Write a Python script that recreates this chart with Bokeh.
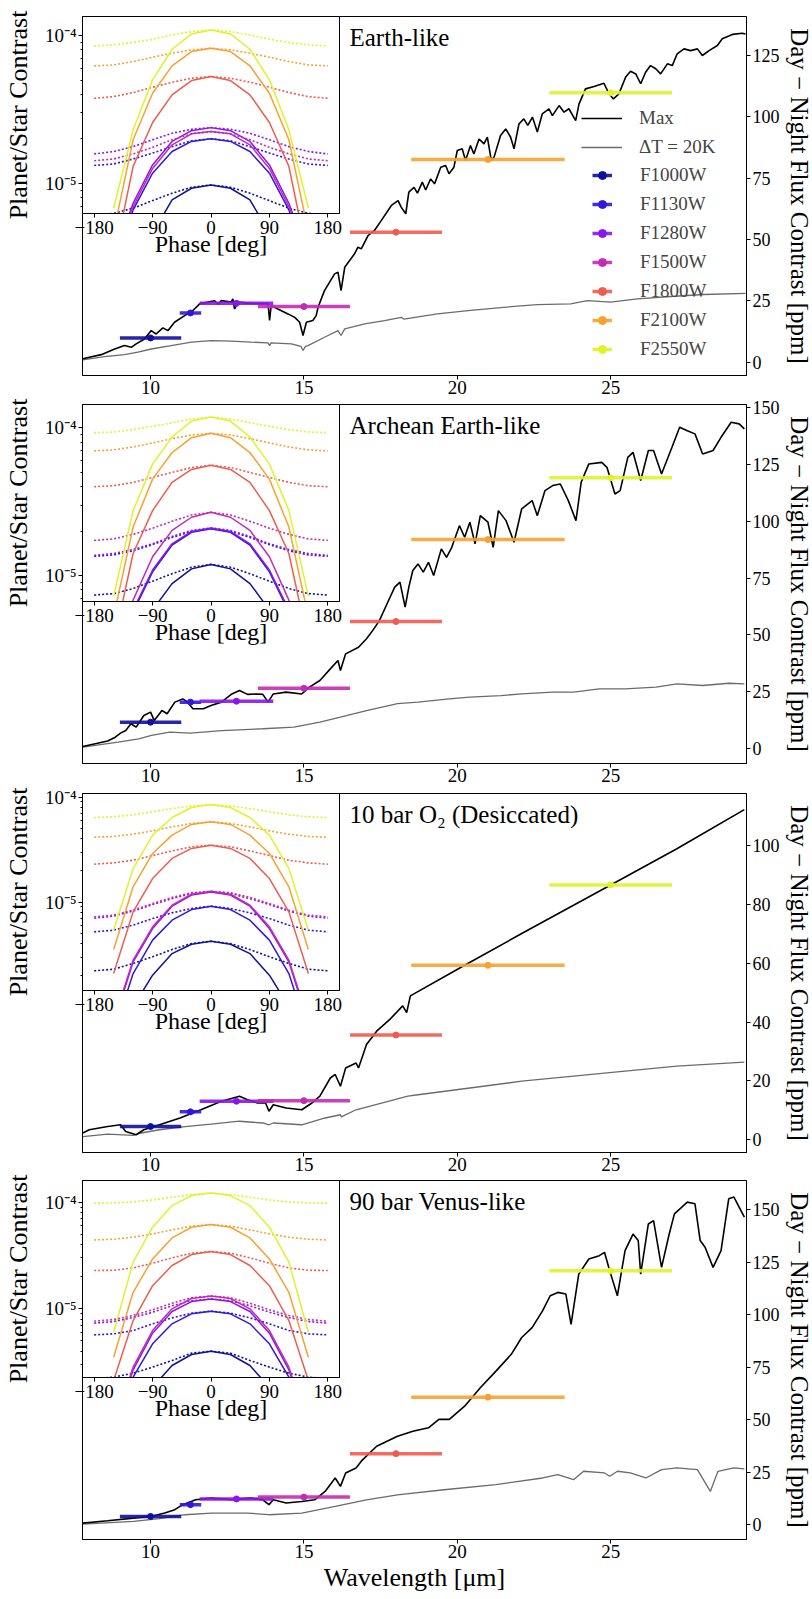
import numpy as np
from bokeh.plotting import figure
from bokeh.models import (Range1d, SingleIntervalTicker, FixedTicker, CustomJSTickFormatter,
                          Legend, LegendItem, Label, ColumnDataSource)
from bokeh.layouts import column
from bokeh.embed import file_html
from bokeh.resources import INLINE

FONT = "Liberation Serif"
nan = float("nan")

# ---------------- filters ----------------
FILTERS = ["F1000W", "F1130W", "F1280W", "F1500W", "F1800W", "F2100W", "F2550W"]
FILTER_CENTER = [10.0, 11.3, 12.8, 15.0, 18.0, 21.0, 25.0]
FILTER_HALFWIDTH = [1.0, 0.35, 1.2, 1.5, 1.5, 2.5, 2.0]
FILTER_COLORS = ["#10109c", "#3216dc", "#8a16ee", "#c42ab4", "#ee5c50", "#f6a232", "#dff22c"]

# Day - Night contrast per filter (ppm)
earth_filter_ppm = [9.9, 20.1, 24.0, 22.7, 53.0, 82.6, 109.8]
archean_filter_ppm = [11.7, 20.5, 20.9, 26.6, 55.9, 91.9, 119.0]
o2_filter_ppm = [4.5, 9.5, 13.1, 13.3, 35.6, 59.3, 86.6]
venus_filter_ppm = [4.0, 9.6, 12.3, 13.2, 33.9, 60.8, 121.0]

# ---------------- spectra (wavelength um, ppm) ----------------
earth_max = [(7.79, 1.4), (8.39, 3.1), (8.83, 5.4), (9.15, 6.8), (9.37, 6.1), (9.53, 7.5), (9.80, 9.5),
    (10.02, 12.9), (10.18, 11.5), (10.40, 14.0), (10.57, 12.9), (10.78, 16.3), (11.11, 19.0), (11.38, 21.1),
    (11.60, 23.8), (11.87, 24.5), (12.09, 25.1), (12.20, 23.5), (12.30, 25.1), (12.63, 24.5), (12.68, 25.8),
    (12.74, 21.7), (12.85, 24.5), (13.28, 24.0), (13.83, 23.8), (13.88, 17.0), (13.93, 23.1), (14.15, 21.7),
    (14.48, 19.7), (14.70, 18.3), (14.86, 16.3), (14.97, 10.9), (15.08, 16.3), (15.29, 17.0), (15.40, 19.0),
    (15.46, 22.4), (15.67, 29.2), (16.00, 36.0), (16.11, 36.7), (16.21, 29.2), (16.33, 38.7), (16.65, 44.2),
    (16.76, 46.9), (16.87, 46.2), (17.09, 51.6), (17.30, 53.7), (17.52, 57.7), (17.85, 63.9), (18.07, 65.9),
    (18.17, 63.2), (18.32, 60.5), (18.42, 69.3), (18.59, 71.3), (18.70, 68.9), (18.86, 73.4), (18.97, 70.2),
    (19.13, 74.7), (19.26, 72.7), (19.46, 79.5), (19.62, 80.2), (19.73, 76.8), (19.89, 79.5), (20.00, 86.3),
    (20.16, 87.0), (20.27, 82.2), (20.43, 88.3), (20.54, 84.9), (20.71, 91.0), (20.87, 89.0), (20.98, 91.7),
    (21.11, 82.2), (21.20, 83.6), (21.41, 92.4), (21.58, 95.1), (21.74, 91.7), (21.85, 87.0), (22.01, 97.1),
    (22.17, 99.2), (22.30, 96.5), (22.45, 99.9), (22.61, 93.8), (22.77, 101.2), (22.99, 103.3), (23.10, 100.5),
    (23.32, 104.6), (23.48, 101.9), (23.64, 103.3), (23.86, 98.5), (23.97, 105.3), (24.18, 111.4), (24.46, 112.4),
    (24.78, 113.7), (24.95, 109.4), (25.09, 107.3), (25.27, 109.4), (25.49, 116.2), (25.65, 118.6), (25.82, 117.5),
    (25.98, 113.5), (26.14, 118.2), (26.30, 120.9), (26.47, 119.6), (26.63, 117.5), (26.85, 121.6), (27.01, 120.9),
    (27.17, 125.7), (27.39, 127.7), (27.61, 127.0), (27.83, 127.7), (27.99, 125.0), (28.21, 127.0), (28.48, 129.1),
    (28.64, 131.8), (28.97, 133.6), (29.29, 134.1), (29.40, 133.8)]
earth_dt = [(7.79, 1.0), (8.50, 2.3), (9.15, 3.1), (9.59, 4.1), (10.02, 5.4), (10.67, 6.8), (11.33, 8.2),
    (11.98, 8.8), (12.63, 8.6), (13.28, 8.2), (13.83, 7.9), (13.88, 6.8), (13.93, 7.9), (14.59, 7.5),
    (14.90, 6.5), (14.97, 4.8), (15.05, 6.5), (15.13, 6.8), (15.67, 10.2), (16.11, 12.9), (16.21, 10.9),
    (16.33, 13.6), (16.98, 15.6), (17.63, 17.0), (18.17, 18.3), (18.26, 17.6), (19.35, 19.7), (20.43, 21.1),
    (21.52, 22.4), (22.61, 23.5), (23.70, 23.8), (24.24, 25.1), (25.00, 24.5), (25.87, 25.8), (26.96, 26.8),
    (28.04, 27.6), (29.40, 28.1)]

archean_max = [(7.79, 1.0), (8.60, 3.4), (8.85, 5.1), (9.02, 6.9), (9.19, 8.0), (9.36, 11.0), (9.53, 9.5),
    (9.78, 14.6), (10.00, 16.1), (10.12, 12.4), (10.37, 16.8), (10.54, 15.4), (10.79, 20.5), (11.05, 21.9),
    (11.21, 20.5), (11.38, 17.6), (11.72, 17.6), (11.97, 19.0), (12.31, 20.5), (12.65, 24.1), (12.90, 25.6),
    (13.16, 23.9), (13.49, 24.1), (13.66, 23.9), (13.83, 20.5), (14.00, 24.1), (14.42, 24.9), (14.93, 24.1),
    (15.18, 27.1), (15.52, 30.0), (15.86, 35.1), (16.11, 38.8), (16.19, 34.4), (16.36, 41.7), (16.78, 44.6),
    (17.04, 48.3), (17.24, 51.9), (17.46, 56.3), (17.71, 63.7), (17.96, 71.0), (18.13, 73.2), (18.30, 62.2),
    (18.42, 71.0), (18.55, 78.3), (18.72, 81.2), (18.89, 77.6), (19.06, 81.9), (19.23, 76.1), (19.48, 87.8),
    (19.65, 84.1), (19.82, 88.5), (20.07, 98.0), (20.24, 92.9), (20.41, 99.5), (20.58, 90.0), (20.75, 102.4),
    (21.00, 99.5), (21.17, 88.5), (21.34, 104.6), (21.59, 100.2), (21.85, 90.7), (22.10, 105.4), (22.44, 109.0),
    (22.61, 102.4), (22.86, 113.4), (23.11, 115.6), (23.36, 116.3), (23.62, 109.0), (23.87, 100.2), (24.04, 117.1),
    (24.29, 125.1), (24.71, 125.8), (24.88, 123.6), (25.14, 111.9), (25.31, 113.4), (25.56, 128.0), (25.73, 130.2),
    (25.98, 117.8), (26.23, 131.0), (26.40, 131.0), (26.66, 120.7), (27.00, 132.4), (27.25, 141.2), (27.50, 139.7),
    (27.75, 138.3), (28.00, 129.5), (28.34, 131.0), (28.60, 136.8), (28.93, 143.4), (29.19, 142.7), (29.36, 140.5)]
archean_dt = [(7.79, 0.7), (8.94, 2.9), (9.61, 4.4), (10.03, 5.9), (10.62, 7.3), (11.30, 6.9), (12.31, 8.0),
    (13.66, 8.8), (14.67, 9.5), (15.52, 11.7), (16.19, 13.9), (17.04, 16.8), (18.05, 19.8), (18.72, 20.5),
    (19.74, 21.9), (20.41, 22.7), (21.42, 23.4), (22.10, 24.1), (23.11, 24.9), (23.79, 24.9), (24.63, 26.3),
    (25.47, 26.3), (26.48, 27.1), (27.16, 28.5), (28.00, 27.8), (28.85, 28.8), (29.36, 28.5)]

o2_max = [(7.79, 2.3), (8.00, 3.4), (8.60, 4.5), (9.02, 5.1), (9.19, 2.8), (9.53, 1.7), (9.78, 3.4),
    (10.29, 5.1), (10.96, 7.4), (11.64, 10.2), (12.31, 13.1), (12.90, 14.8), (13.16, 13.6), (13.49, 12.5),
    (13.75, 12.5), (13.86, 9.7), (14.00, 11.9), (14.42, 10.8), (14.93, 10.2), (15.26, 12.5), (15.52, 14.8),
    (15.86, 21.0), (16.02, 22.2), (16.19, 18.2), (16.36, 24.4), (16.70, 26.1), (16.78, 24.4), (17.04, 32.4),
    (17.37, 36.9), (17.80, 40.9), (18.22, 45.5), (18.35, 43.2), (18.47, 48.9), (20.24, 59.3), (22.10, 70.1),
    (23.79, 79.7), (25.00, 86.6), (27.16, 98.9), (29.36, 112.2)]
o2_dt = [(7.79, 1.1), (8.60, 1.9), (9.44, 1.5), (9.70, 2.3), (10.29, 3.4), (11.13, 4.5), (11.97, 5.3),
    (12.90, 6.3), (13.66, 5.7), (13.86, 5.1), (14.00, 5.7), (14.93, 5.1), (15.69, 7.4), (16.19, 8.5),
    (16.22, 7.8), (16.70, 10.2), (18.39, 14.8), (18.72, 15.3), (20.41, 17.6), (22.10, 19.9), (23.79, 21.6),
    (25.47, 23.3), (27.16, 25.0), (29.36, 26.4)]

venus_max = [(7.79, 0.8), (8.60, 1.9), (9.44, 3.2), (10.00, 4.0), (10.46, 5.6), (10.79, 7.2), (11.05, 9.6),
    (11.47, 11.9), (11.97, 12.7), (12.65, 11.9), (13.24, 12.7), (13.66, 11.9), (13.86, 9.6), (14.00, 11.9),
    (14.42, 10.4), (14.93, 11.1), (15.35, 11.9), (15.69, 15.9), (16.02, 22.3), (16.19, 18.3), (16.36, 24.7),
    (16.70, 27.1), (16.87, 30.3), (17.37, 37.4), (18.05, 42.2), (18.55, 44.6), (19.06, 46.2), (19.40, 50.2),
    (19.74, 50.2), (20.24, 56.5), (20.75, 65.3), (21.26, 73.2), (21.76, 81.2), (22.10, 89.2), (22.44, 93.9),
    (22.78, 101.9), (23.03, 109.1), (23.28, 110.7), (23.54, 109.9), (23.71, 95.5), (23.96, 119.4), (24.29, 126.6),
    (24.63, 128.2), (24.80, 129.8), (24.97, 121.0), (25.22, 109.1), (25.47, 130.6), (25.73, 138.5), (25.90, 135.4),
    (25.98, 119.4), (26.23, 143.3), (26.40, 144.9), (26.66, 122.6), (26.91, 138.5), (27.08, 148.1), (27.50, 153.7),
    (27.75, 152.9), (27.92, 135.4), (28.08, 132.2), (28.34, 122.6), (28.60, 130.6), (28.85, 155.3), (29.02, 156.1),
    (29.19, 151.3), (29.36, 146.5)]
venus_dt = [(7.79, 0.3), (9.44, 1.6), (10.29, 2.9), (11.13, 4.8), (11.97, 5.6), (13.16, 5.6), (13.86, 4.8),
    (14.93, 5.6), (16.02, 8.8), (17.04, 11.9), (18.05, 14.3), (19.57, 16.7), (21.26, 19.1), (22.78, 22.3),
    (23.28, 23.9), (23.79, 21.5), (24.12, 25.5), (24.80, 24.7), (24.97, 23.1), (25.22, 25.5), (25.64, 24.7),
    (26.15, 22.3), (26.66, 26.3), (27.16, 27.1), (27.83, 26.3), (28.25, 15.9), (28.50, 25.5), (29.02, 27.1),
    (29.36, 26.6)]

# ---------------- phase curves (ppm), rows in FILTERS order ----------------
PHASE = [-180, -150, -120, -90, -60, -30, 0, 30, 60, 90, 120, 150, 180]

earth_phase_max = [
    [nan, 0.74, 2.10, 4.59, 7.71, 9.25, 9.74, 9.25, 7.71, 4.59, 2.10, 0.74, nan],
    [nan, 2.87, 6.60, 11.7, 16.4, 19.2, 20.0, 19.2, 16.4, 11.7, 6.60, 2.87, nan],
    [nan, 3.19, 7.32, 13.3, 19.2, 22.7, 23.8, 22.7, 19.2, 13.3, 7.32, 3.19, nan],
    [nan, 3.03, 6.95, 12.6, 18.2, 21.6, 22.4, 21.6, 18.2, 12.6, 6.95, 3.03, nan],
    [nan, 3.0, 13.0, 25.8, 39.7, 49.6, 52.8, 49.6, 39.7, 25.8, 13.0, 3.0, nan],
    [nan, 4.68, 19.7, 40.7, 62.3, 77.9, 82.1, 77.9, 62.3, 40.7, 19.7, 4.68, nan],
    [nan, 6.78, 23.0, 50.1, 80.8, 102.6, 109.2, 102.6, 80.8, 50.1, 23.0, 6.78, nan]]
earth_phase_dt = [
    [6.01, 6.26, 6.78, 7.63, 8.56, 9.40, 9.74, 9.40, 8.56, 7.63, 6.78, 6.26, 6.01],
    [13.2, 13.5, 14.6, 16.0, 17.7, 19.4, 20.0, 19.4, 17.7, 16.0, 14.6, 13.5, 13.2],
    [15.8, 16.4, 17.7, 19.7, 21.8, 23.2, 23.8, 23.2, 21.8, 19.7, 17.7, 16.4, 15.8],
    [14.2, 14.6, 15.8, 17.5, 19.7, 21.6, 22.4, 21.6, 19.7, 17.5, 15.8, 14.6, 14.2],
    [37.6, 38.6, 41.1, 44.7, 48.3, 51.4, 52.8, 51.4, 48.3, 44.7, 41.1, 38.6, 37.6],
    [62.3, 63.3, 66.7, 71.3, 75.9, 80.0, 82.1, 80.0, 75.9, 71.3, 66.7, 63.3, 62.3],
    [85.1, 86.5, 89.7, 94.4, 101.0, 106.4, 109.2, 106.4, 101.0, 94.4, 89.7, 86.5, 85.1]]

archean_phase_max = [
    [nan, 1.06, 2.84, 5.85, 8.83, 11.1, 11.9, 11.1, 8.83, 5.85, 2.84, 1.06, nan],
    [nan, 2.19, 5.67, 10.6, 16.1, 19.6, 20.7, 19.6, 16.1, 10.6, 5.67, 2.19, nan],
    [nan, 2.31, 5.85, 10.9, 16.4, 19.9, 21.0, 19.9, 16.4, 10.9, 5.85, 2.31, nan],
    [nan, 2.31, 6.83, 13.4, 20.2, 24.8, 26.8, 24.8, 20.2, 13.4, 6.83, 2.31, nan],
    [nan, 3.49, 14.1, 27.5, 42.7, 52.2, 55.8, 52.2, 42.7, 27.5, 14.1, 3.49, nan],
    [nan, 5.27, 21.3, 44.9, 67.9, 85.6, 91.6, 85.6, 67.9, 44.9, 21.3, 5.27, nan],
    [nan, 7.26, 27.5, 56.7, 86.5, 110.9, 118.0, 110.9, 86.5, 56.7, 27.5, 7.26, nan]]
archean_phase_dt = [
    [7.38, 7.56, 8.18, 9.16, 10.3, 11.4, 11.9, 11.4, 10.3, 9.16, 8.18, 7.56, 7.38],
    [13.5, 13.8, 14.7, 16.2, 18.1, 19.9, 20.7, 19.9, 18.1, 16.2, 14.7, 13.8, 13.5],
    [13.7, 14.1, 15.0, 16.4, 18.4, 20.2, 21.0, 20.2, 18.4, 16.4, 15.0, 14.1, 13.7],
    [17.3, 17.7, 19.0, 20.9, 23.3, 25.7, 26.8, 25.7, 23.3, 20.9, 19.0, 17.7, 17.3],
    [39.9, 40.5, 42.7, 46.1, 49.8, 53.8, 55.8, 53.8, 49.8, 46.1, 42.7, 40.5, 39.9],
    [69.7, 70.8, 74.1, 78.9, 84.3, 89.3, 91.6, 89.3, 84.3, 78.9, 74.1, 70.8, 69.7],
    [92.6, 93.5, 97.0, 102.1, 108.0, 114.4, 118.0, 114.4, 108.0, 102.1, 97.0, 93.5, 92.6]]

o2_phase_max = [
    [nan, 0.31, 1.01, 2.02, 3.24, 3.98, 4.25, 3.98, 3.24, 2.02, 1.01, 0.31, nan],
    [nan, 0.56, 2.09, 4.35, 6.74, 8.51, 9.16, 8.51, 6.74, 4.35, 2.09, 0.56, nan],
    [nan, 0.70, 2.70, 5.61, 9.16, 11.7, 12.5, 11.7, 9.16, 5.61, 2.70, 0.70, nan],
    [nan, 0.75, 2.80, 5.82, 9.36, 11.9, 12.7, 11.9, 9.36, 5.82, 2.80, 0.75, nan],
    [nan, 2.09, 8.09, 16.8, 26.1, 32.5, 34.9, 32.5, 26.1, 16.8, 8.09, 2.09, nan],
    [nan, 3.54, 14.0, 29.1, 43.5, 55.0, 58.2, 55.0, 43.5, 29.1, 14.0, 3.54, nan],
    [nan, 5.41, 20.9, 43.5, 64.0, 79.7, 85.2, 79.7, 64.0, 43.5, 20.9, 5.41, nan]]
o2_phase_dt = [
    [2.22, 2.30, 2.61, 3.02, 3.54, 4.04, 4.25, 4.04, 3.54, 3.02, 2.61, 2.30, 2.22],
    [5.22, 5.41, 6.04, 6.99, 7.91, 8.71, 9.16, 8.71, 7.91, 6.99, 6.04, 5.41, 5.22],
    [7.04, 7.36, 8.21, 9.50, 10.8, 12.1, 12.5, 12.1, 10.8, 9.50, 8.21, 7.36, 7.04],
    [7.25, 7.52, 8.39, 9.71, 11.1, 12.3, 12.7, 12.3, 11.1, 9.71, 8.39, 7.52, 7.25],
    [23.0, 23.7, 25.1, 27.8, 30.8, 33.7, 34.9, 33.7, 30.8, 27.8, 25.1, 23.7, 23.0],
    [41.6, 42.2, 44.4, 47.8, 52.2, 56.1, 58.2, 56.1, 52.2, 47.8, 44.4, 42.2, 41.6],
    [64.0, 65.0, 67.9, 72.5, 78.0, 82.7, 85.2, 82.7, 78.0, 72.5, 67.9, 65.0, 64.0]]

venus_phase_max = [
    [nan, 0.25, 0.90, 1.84, 2.94, 3.73, 4.01, 3.73, 2.94, 1.84, 0.90, 0.25, nan],
    [nan, 0.63, 2.29, 4.70, 7.24, 8.98, 9.51, 8.98, 7.24, 4.70, 2.29, 0.63, nan],
    [nan, 0.72, 2.68, 5.91, 9.44, 11.7, 12.4, 11.7, 9.44, 5.91, 2.68, 0.72, nan],
    [nan, 0.78, 2.84, 6.26, 10.0, 12.5, 13.2, 12.5, 10.0, 6.26, 2.84, 0.78, nan],
    [nan, 2.13, 7.77, 16.5, 25.5, 32.3, 34.5, 32.3, 25.5, 16.5, 7.77, 2.13, nan],
    [nan, 3.52, 14.3, 29.4, 46.3, 58.3, 61.8, 58.3, 46.3, 29.4, 14.3, 3.52, nan],
    [nan, 6.04, 27.4, 58.3, 93.1, 115.5, 122.3, 115.5, 93.1, 58.3, 27.4, 6.04, nan]]
venus_phase_dt = [
    [2.21, 2.29, 2.49, 2.84, 3.28, 3.84, 4.01, 3.84, 3.28, 2.84, 2.49, 2.29, 2.21],
    [5.70, 5.83, 6.26, 7.24, 8.23, 9.11, 9.51, 9.11, 8.23, 7.24, 6.26, 5.83, 5.70],
    [7.34, 7.60, 8.29, 9.30, 10.7, 11.9, 12.4, 11.9, 10.7, 9.30, 8.29, 7.60, 7.34],
    [7.66, 7.94, 8.66, 9.80, 11.3, 12.7, 13.2, 12.7, 11.3, 9.80, 8.66, 7.94, 7.66],
    [22.9, 23.0, 24.2, 26.8, 30.1, 33.3, 34.5, 33.3, 30.1, 26.8, 24.2, 23.0, 22.9],
    [44.3, 45.0, 47.0, 50.5, 55.1, 59.6, 61.8, 59.6, 55.1, 50.5, 47.0, 45.0, 44.3],
    [97.9, 98.6, 100.7, 105.2, 111.4, 118.0, 122.3, 118.0, 111.4, 105.2, 100.7, 98.6, 97.9]]

TITLES = ["Earth-like", "Archean Earth-like", "10 bar O\u2082 (Desiccated)", "90 bar Venus-like"]

# ---------------- layout constants ----------------
X_RANGE = (7.78, 29.43)
PHASE_RANGE = (-198, 198)
MAIN_Y_RANGES = [(-5.4, 140.9), (-6.45, 151.2), (-4.33, 117.7), (-7.0, 164.0)]
MAIN_TICK_STEP = [25, 25, 20, 25]
INSET_Y_RANGES = [(6.24e-6, 1.346e-4), (6.68e-6, 1.435e-4), (1.442e-6, 1.084e-4), (2.27e-6, 1.60e-4)]
LEFT = 78
RIGHT = 64
FRAME_W, FRAME_H = 664, 359
INSET_W, INSET_H = 257, 197
INSET_RIGHT, INSET_BOTTOM = 20, 60


def style_axis(ax, tick_size="19px", label_size="24px"):
    ax.major_label_text_font = FONT
    ax.major_label_text_font_size = tick_size
    ax.major_label_text_color = "black"
    ax.axis_label_text_font = FONT
    ax.axis_label_text_font_size = label_size
    ax.axis_label_text_font_style = "normal"
    ax.axis_label_text_color = "black"
    ax.axis_line_color = "black"
    ax.major_tick_line_color = "black"
    ax.minor_tick_line_color = "black"
    ax.major_tick_in = 0
    ax.major_tick_out = 4
    ax.minor_tick_in = 0
    ax.minor_tick_out = 2


def make_main(idx, curve_max, curve_dt, bar_ppm, top, bottom, xlabel=None, legend=False):
    yr = MAIN_Y_RANGES[idx]
    p = figure(frame_width=FRAME_W, frame_height=FRAME_H,
               x_range=Range1d(*X_RANGE), y_range=Range1d(*yr),
               y_axis_location="right", title=None, tools="", toolbar_location=None,
               output_backend="svg",
               min_border_left=LEFT, min_border_right=RIGHT,
               min_border_top=top, min_border_bottom=bottom,
               background_fill_color="white", border_fill_color=None,
               outline_line_color="black", outline_line_width=1)
    p.grid.visible = False

    lam_d = [a for a, b in curve_dt]
    ppm_d = [b for a, b in curve_dt]
    lam_m = [a for a, b in curve_max]
    ppm_m = [b for a, b in curve_max]
    r_dt = p.line(lam_d, ppm_d, line_color="#6b6b6b", line_width=1.3)
    r_max = p.line(lam_m, ppm_m, line_color="black", line_width=1.6)

    src = ColumnDataSource(dict(
        xc=FILTER_CENTER,
        x0=[c - h for c, h in zip(FILTER_CENTER, FILTER_HALFWIDTH)],
        x1=[c + h for c, h in zip(FILTER_CENTER, FILTER_HALFWIDTH)],
        y=bar_ppm, color=FILTER_COLORS))
    r_bar = p.segment(x0="x0", y0="y", x1="x1", y1="y", line_color="color",
                      line_width=3.5, line_alpha=0.9, source=src)
    r_dot = p.scatter(x="xc", y="y", size=6, fill_color="color", line_color="color", source=src)

    xa = p.xaxis[0]
    style_axis(xa, label_size="26px")
    xa.ticker = SingleIntervalTicker(interval=5, num_minor_ticks=0)
    xa.major_label_standoff = 1
    if xlabel:
        xa.axis_label = xlabel
        xa.axis_label_standoff = 2

    ya = p.yaxis[0]
    style_axis(ya, tick_size="18px", label_size="25px")
    ya.ticker = SingleIntervalTicker(interval=MAIN_TICK_STEP[idx], num_minor_ticks=0)
    ya.axis_label = "Day \u2212 Night Flux Contrast [ppm]"
    ya.major_label_standoff = 2
    ya.axis_label_standoff = 3

    ty = yr[1] - 21 * (yr[1] - yr[0]) / FRAME_H
    tx = X_RANGE[0] + 267 * (X_RANGE[1] - X_RANGE[0]) / FRAME_W
    p.add_layout(Label(x=tx, y=ty, text=TITLES[idx], text_font=FONT, text_font_size="25px",
                       text_align="left", text_baseline="middle", text_color="black"))

    if legend:
        common = dict(border_line_color=None, background_fill_alpha=0, padding=0, margin=0,
                      label_text_font=FONT, label_text_font_size="19px",
                      glyph_height=22, label_height=22, spacing=7)
        leg1 = Legend(items=[LegendItem(label="Max", renderers=[r_max]),
                             LegendItem(label="\u0394T = 20K", renderers=[r_dt])],
                      location=(499, 217), glyph_width=41, label_standoff=17, **common)
        leg2 = Legend(items=[LegendItem(label=FILTERS[k], renderers=[r_bar, r_dot], index=k)
                             for k in range(len(FILTERS))],
                      location=(510, 15), glyph_width=20, label_standoff=28, **common)
        p.add_layout(leg1)
        p.add_layout(leg2)
    return p


def make_inset(idx, rows_max, rows_dt, top):
    p = figure(frame_width=INSET_W, frame_height=INSET_H,
               x_range=Range1d(*PHASE_RANGE), y_range=Range1d(*INSET_Y_RANGES[idx]),
               y_axis_type="log", title=None, tools="", toolbar_location=None,
               output_backend="svg",
               min_border_left=LEFT, min_border_right=INSET_RIGHT,
               min_border_top=top, min_border_bottom=INSET_BOTTOM,
               background_fill_color="white", border_fill_color=None,
               outline_line_color="black", outline_line_width=1)
    p.grid.visible = False
    for k in range(len(FILTERS)):
        p.line(PHASE, np.array(rows_max[k]) * 1e-6, line_color=FILTER_COLORS[k], line_width=1.5)
        p.line(PHASE, np.array(rows_dt[k]) * 1e-6, line_color=FILTER_COLORS[k], line_width=1.6,
               line_dash="2 2")

    xa = p.xaxis[0]
    style_axis(xa)
    xa.ticker = FixedTicker(ticks=[-180, -90, 0, 90, 180])
    xa.formatter = CustomJSTickFormatter(
        code="return tick < 0 ? '\\u2212' + Math.abs(tick) : String(tick);")
    xa.major_label_standoff = 3
    xa.axis_label = "Phase [deg]"
    xa.axis_label_standoff = -6

    ya = p.yaxis[0]
    style_axis(ya, label_size="26px")
    ya.ticker = FixedTicker(ticks=[1e-6, 1e-5, 1e-4],
                            minor_ticks=[m * 10.0 ** e for e in (-6, -5, -4) for m in range(2, 10)])
    ya.formatter = CustomJSTickFormatter(code="""
        const e = Math.round(Math.log10(tick));
        const sup = {'-': '\\u207b', '0': '\\u2070', '1': '\\u00b9', '2': '\\u00b2', '3': '\\u00b3',
                     '4': '\\u2074', '5': '\\u2075', '6': '\\u2076', '7': '\\u2077', '8': '\\u2078', '9': '\\u2079'};
        return '10' + String(e).split('').map(c => sup[c]).join('');
    """)
    ya.major_label_standoff = 2
    ya.axis_label = "Planet/Star Contrast"
    ya.axis_label_standoff = 9
    return p


panels = [
    (earth_max, earth_dt, earth_filter_ppm, earth_phase_max, earth_phase_dt),
    (archean_max, archean_dt, archean_filter_ppm, archean_phase_max, archean_phase_dt),
    (o2_max, o2_dt, o2_filter_ppm, o2_phase_max, o2_phase_dt),
    (venus_max, venus_dt, venus_filter_ppm, venus_phase_max, venus_phase_dt),
]

TOPS = [16, 20, 20, 20]
BOTTOMS = [40, 40, 40, 60]
MAIN_MARGIN_TOP = [0, -31, -30, -32]

children = []
for i, (cm, cd, fb, pm, pdt) in enumerate(panels):
    main = make_main(i, cm, cd, fb, TOPS[i], BOTTOMS[i],
                     xlabel="Wavelength [\u03bcm]" if i == 3 else None, legend=(i == 0))
    inset = make_inset(i, pm, pdt, TOPS[i])
    H = TOPS[i] + FRAME_H + BOTTOMS[i]
    Hi = TOPS[i] + INSET_H + INSET_BOTTOM
    main.margin = (MAIN_MARGIN_TOP[i], 0, 0, 0)
    inset.margin = (-H, 0, H - Hi, 0)
    children += [main, inset]

layout = column(children, spacing=0)
open("out.html", "w").write(file_html(layout, INLINE))
